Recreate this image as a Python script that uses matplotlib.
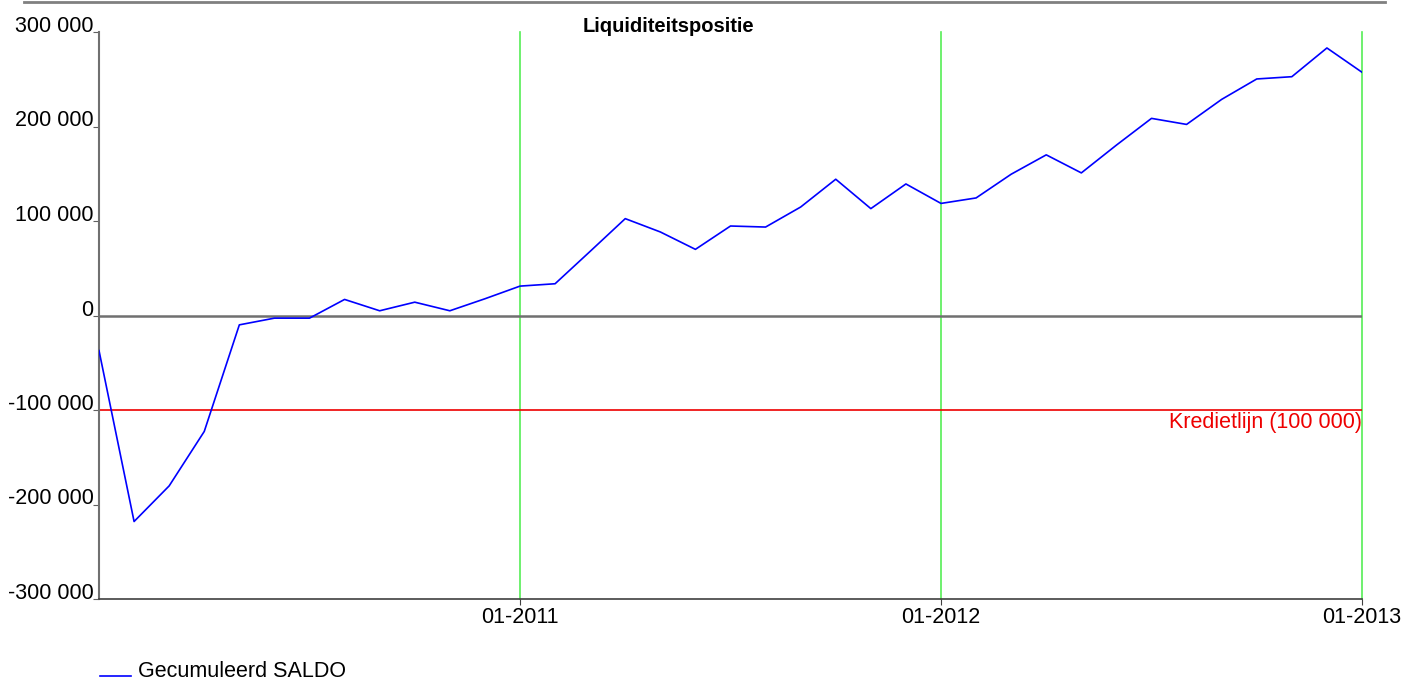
import matplotlib
matplotlib.use('Agg')
import matplotlib.pyplot as plt
from matplotlib.lines import Line2D
from matplotlib.ticker import FuncFormatter

plt.rcParams['font.family'] = ['Liberation Sans', 'DejaVu Sans']

# monthly cumulative balance, month index 0 = 01-2010 .. 36 = 01-2013
months = list(range(37))
saldo = [
    -37100, -218000, -180300, -122700, -9900, -2800, -2800, 17000, 5000, 14100, 5000, 17700, 31100,
    33600, 67900, 102500, 88400, 70000, 94700, 93600, 114800, 144200, 113100, 139200, 118600,
    124400, 149500, 170000, 150900, 180300, 208600, 202200, 228700, 250300, 252700, 283100, 257400,
]
year_marks = [12, 24, 36]
year_labels = ['01-2011', '01-2012', '01-2013']
y_ticks = [-300000, -200000, -100000, 0, 100000, 200000, 300000]
credit_line = -100000
credit_label = 'Kredietlijn (100 000)'
legend_label = 'Gecumuleerd SALDO'


def main():
    fig = plt.figure(figsize=(14.04, 6.8), dpi=100)
    ax = fig.add_axes([99/1404, 1 - 599/680, (1362-99)/1404, (599-32)/680])

    # year grid lines
    for m in year_marks:
        ax.axvline(m, color='#55ee55', linewidth=1.2, zorder=1, clip_on=False)
    ax.axhline(0, color='#707070', linewidth=1.8, zorder=1)
    ax.axhline(credit_line, color='#ee0000', linewidth=1.2, zorder=1)

    ax.plot(months, saldo, color='#0000ff', linewidth=1.2, zorder=3)

    ax.set_xlim(0, 36)
    ax.set_ylim(-300000, 300000)
    ax.set_xticks(year_marks)
    ax.set_xticklabels(year_labels)
    ax.set_yticks(y_ticks)
    ax.yaxis.set_major_formatter(FuncFormatter(lambda v, p: '{:,.0f}'.format(v).replace(',', ' ')))
    for lbl in ax.get_yticklabels():
        lbl.set_verticalalignment('baseline')

    ax.tick_params(axis='y', length=4, pad=0, labelsize=15.5, color='#606060')
    ax.tick_params(axis='x', length=4, pad=2, labelsize=15.5, color='#404040')
    for s in ['top', 'right']:
        ax.spines[s].set_visible(False)
    ax.spines['left'].set_color('#707070')
    ax.spines['left'].set_linewidth(1.5)
    ax.spines['bottom'].set_color('#404040')
    ax.spines['bottom'].set_linewidth(1.2)

    ax.text(36, credit_line - 2500, credit_label, color='#ee0000', fontsize=15.5,
            ha='right', va='top', zorder=4)

    fig.text(668/1404, 1 - 26/680, 'Liquiditeitspositie', ha='center', va='center',
             fontsize=14.5, fontweight='bold')
    # top border line
    fig.add_artist(Line2D([24/1404, 1385/1404], [1 - 2/680, 1 - 2/680], color='#808080',
                          linewidth=2, transform=fig.transFigure))

    # legend entry
    fig.add_artist(Line2D([100/1404, 131/1404], [1 - 676/680, 1 - 676/680], color='#0000ff',
                          linewidth=1.2, transform=fig.transFigure))
    fig.text(138/1404, 1 - 677/680, legend_label, ha='left', va='baseline', fontsize=15.5)

    fig.savefig('out.png', dpi=100)


if __name__ == "__main__":
    main()
